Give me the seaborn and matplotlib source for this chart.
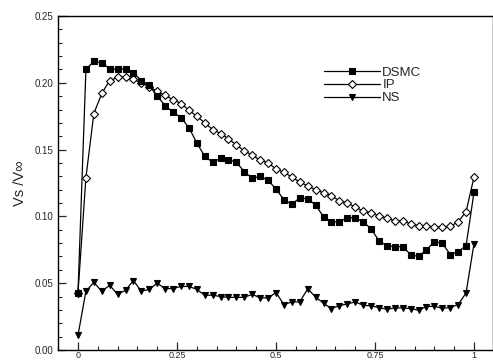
import matplotlib
matplotlib.use("Agg")
import matplotlib.pyplot as plt
import numpy as np
import pandas as pd
import seaborn as sns
from matplotlib.ticker import MultipleLocator, FixedLocator

# x positions (fraction of length)
x = [0.00, 0.02, 0.04, 0.06, 0.08, 0.10, 0.12, 0.14, 0.16, 0.18,
     0.20, 0.22, 0.24, 0.26, 0.28, 0.30, 0.32, 0.34, 0.36, 0.38,
     0.40, 0.42, 0.44, 0.46, 0.48, 0.50, 0.52, 0.54, 0.56, 0.58,
     0.60, 0.62, 0.64, 0.66, 0.68, 0.70, 0.72, 0.74, 0.76, 0.78,
     0.80, 0.82, 0.84, 0.86, 0.88, 0.90, 0.92, 0.94, 0.96, 0.98, 1.00]

dsmc = [0.043, 0.210, 0.216, 0.215, 0.2105, 0.210, 0.2105, 0.2075, 0.2017, 0.198,
        0.190, 0.183, 0.178, 0.174, 0.1665, 0.155, 0.145, 0.1405, 0.1435, 0.1425,
        0.1405, 0.1335, 0.1285, 0.130, 0.127, 0.1205, 0.1125, 0.109, 0.114, 0.113,
        0.1086, 0.0997, 0.096, 0.096, 0.099, 0.099, 0.096, 0.0908, 0.0818, 0.078,
        0.0774, 0.0774, 0.0714, 0.070, 0.075, 0.081, 0.080, 0.0714, 0.0737, 0.078, 0.118]

ip = [0.043, 0.129, 0.177, 0.192, 0.2017, 0.204, 0.2045, 0.2025, 0.200, 0.197,
      0.1935, 0.1905, 0.1875, 0.1845, 0.1795, 0.175, 0.170, 0.165, 0.162, 0.158,
      0.1535, 0.149, 0.146, 0.142, 0.140, 0.1355, 0.133, 0.1295, 0.1257, 0.1228,
      0.120, 0.1176, 0.1153, 0.1118, 0.110, 0.107, 0.104, 0.1027, 0.1005, 0.0987,
      0.0967, 0.0967, 0.0945, 0.093, 0.093, 0.092, 0.092, 0.0925, 0.096, 0.1035, 0.1295]

ns = [0.011, 0.044, 0.0506, 0.044, 0.0484, 0.0417, 0.0447, 0.052, 0.044, 0.0454,
      0.050, 0.046, 0.046, 0.0476, 0.0476, 0.0454, 0.041, 0.041, 0.040, 0.0394,
      0.0394, 0.0394, 0.0417, 0.039, 0.039, 0.043, 0.034, 0.036, 0.036, 0.0458,
      0.0397, 0.035, 0.031, 0.0332, 0.0345, 0.036, 0.0335, 0.033, 0.0318, 0.0305,
      0.0315, 0.0315, 0.031, 0.0298, 0.0325, 0.0328, 0.0312, 0.0318, 0.034, 0.0427, 0.0796]

xticks = [0, 0.25, 0.5, 0.75, 1]
xticklabels = ["0", "0.25", "0.5", "0.75", "1"]
yticks = [0.00, 0.05, 0.10, 0.15, 0.20, 0.25]

sns.set_style("white")
plt.rcParams["font.family"] = ["Liberation Sans", "DejaVu Sans"]

fig = plt.figure(figsize=(4.93, 3.62), dpi=100)
ax = fig.add_axes([58 / 493, 12 / 362, 435 / 493, 334 / 362])

sns.lineplot(x=x, y=dsmc, ax=ax, color="black", lw=0.9, marker="s",
             markersize=4.5, markeredgewidth=0.8, markerfacecolor="black",
             markeredgecolor="black", label="DSMC", zorder=4)
sns.lineplot(x=x, y=ip, ax=ax, color="black", lw=0.9, marker="D",
             markersize=3.8, markeredgewidth=0.8, markerfacecolor="white",
             markeredgecolor="black", label="IP", zorder=3)
sns.lineplot(x=x, y=ns, ax=ax, color="black", lw=0.9, marker="v",
             markersize=5, markeredgewidth=0.8, markerfacecolor="black",
             markeredgecolor="black", label="NS", zorder=3)

ax.set_xlim(-0.0505, 1.048)
ax.set_ylim(0, 0.25)
ax.xaxis.set_major_locator(FixedLocator(xticks))
ax.set_xticklabels(xticklabels)
ax.xaxis.set_minor_locator(MultipleLocator(0.05))
ax.set_yticks(yticks)
ax.set_yticklabels([f"{v:.2f}" for v in yticks])
ax.yaxis.set_minor_locator(MultipleLocator(0.01))
ax.tick_params(which="major", direction="in", length=6, width=0.9,
               labelsize=7, bottom=True, left=True, top=False, right=False, pad=3)
ax.tick_params(axis="x", which="major", labelsize=6.5, pad=0.5)
ax.tick_params(which="minor", direction="in", length=3, width=0.8,
               bottom=True, left=True, top=False, right=False)

for s in ax.spines.values():
    s.set_color("black")
    s.set_linewidth(1.0)

ax.set_xlabel("")
ax.set_ylabel("Vs /V\u221e", fontsize=10.5, labelpad=6)

leg = ax.legend(loc="upper left", bbox_to_anchor=(0.6, 0.865), frameon=False,
                handlelength=4.2, handletextpad=0.2, labelspacing=0.05,
                fontsize=9.5, borderaxespad=0)

plt.savefig("out.png", dpi=100)
plt.close()
